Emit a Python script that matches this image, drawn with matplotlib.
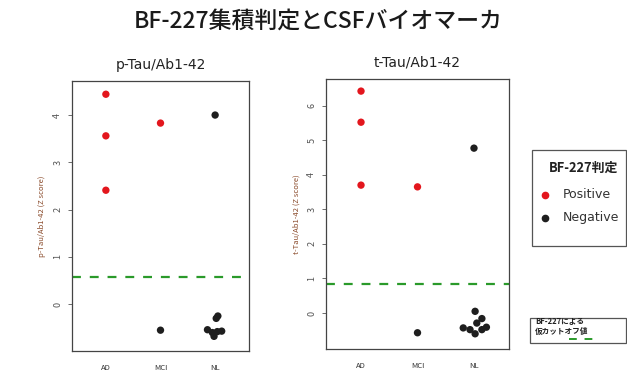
import matplotlib.pyplot as plt
from matplotlib.lines import Line2D
from matplotlib.patches import Rectangle

plt.rcParams['font.family'] = ['Noto Sans CJK JP', 'DejaVu Sans']

groups = ["AD", "MCI", "NL"]

# p-Tau/Ab1-42 (Z score): x position (group index + jitter), value, positive flag
ptau_x = [1, 1, 1, 2, 2, 3, 3.05, 3.02, 2.86, 2.95, 3.04, 3.12, 2.98]
ptau_y = [4.44, 3.56, 2.41, 3.83, -0.55, 4.0, -0.25, -0.30, -0.54, -0.60, -0.58, -0.57, -0.68]
ptau_pos = [1, 1, 1, 1, 0, 0, 0, 0, 0, 0, 0, 0, 0]
ptau_cut = 0.575

# t-Tau/Ab1-42 (Z score)
ttau_x = [1, 1, 1, 2, 2, 3, 3.02, 3.14, 3.05, 2.81, 2.93, 3.14, 3.22, 3.02]
ttau_y = [6.42, 5.52, 3.70, 3.65, -0.57, 4.77, 0.05, -0.16, -0.29, -0.43, -0.48, -0.48, -0.41, -0.60]
ttau_pos = [1, 1, 1, 1, 0, 0, 0, 0, 0, 0, 0, 0, 0, 0]
ttau_cut = 0.83

RED = '#e3161d'
BLACK = '#1e1e1e'
GREEN = '#2a9a2a'
LABEL_COL = '#8a4a2a'

fig = plt.figure(figsize=(6.27, 3.70), dpi=100)
fig.text(0.507, 0.943, "BF-227集積判定とCSFバイオマーカ", ha='center', va='center',
         fontsize=16.5, weight='medium', color='#1a1a1a')

def panel(rect, xs, ys, pos, cut, ylim, yticks, title, ylabel):
    ax = fig.add_axes(rect)
    cols = [RED if p else BLACK for p in pos]
    ax.scatter(xs, ys, c=cols, s=28, linewidths=0, zorder=3)
    ax.axhline(cut, color=GREEN, linestyle=(0, (4, 4)), linewidth=1.6)
    ax.set_xlim(0.38, 3.62)
    ax.set_ylim(*ylim)
    ax.set_yticks(yticks)
    ax.set_yticklabels([str(t) for t in yticks], rotation=90, va='center')
    ax.set_xticks([1, 2, 3])
    ax.set_xticklabels(groups, fontsize=5.5, color='#333333')
    ax.tick_params(axis='x', length=0, pad=9)
    ax.tick_params(axis='y', length=3, width=0.6, color='#555555', labelsize=6.5,
                   labelcolor='#555555', pad=4)
    for s in ax.spines.values():
        s.set_color('#444444')
        s.set_linewidth(0.9)
    ax.set_title(title, fontsize=10, color='#222222', pad=9, family='DejaVu Sans')
    ax.set_ylabel(ylabel, fontsize=5.5, color=LABEL_COL, labelpad=5)
    return ax

ax1 = panel([72 / 627, 1 - 351 / 370, 177 / 627, 270 / 370], ptau_x, ptau_y, ptau_pos,
            ptau_cut, (-0.99, 4.72), [0, 1, 2, 3, 4], "p-Tau/Ab1-42", "p-Tau/Ab1-42 (Z score)")

ax2 = panel([326 / 627, 1 - 349 / 370, 183 / 627, 270 / 370], ttau_x, ttau_y, ttau_pos,
            ttau_cut, (-1.04, 6.77), [0, 1, 2, 3, 4, 5, 6], "t-Tau/Ab1-42", "t-Tau/Ab1-42 (Z score)")

# legend boxes (figure coordinates)
W, H = 627, 370
def fx(px):
    return px / W
def fy(py):
    return 1 - py / H

fig.add_artist(Rectangle((fx(532), fy(246)), fx(94), 96 / H, transform=fig.transFigure,
                         fill=False, edgecolor='#555555', linewidth=0.9))
fig.text(fx(584), fy(168), "BF-227判定", ha='center', va='center', fontsize=9.3,
         weight='bold', color='#222222')
fig.add_artist(Line2D([fx(545)], [fy(195)], marker='o', color=RED, markersize=4.5,
                      transform=fig.transFigure))
fig.text(fx(563), fy(195), "Positive", va='center', fontsize=9, color='#333333',
         family='DejaVu Sans')
fig.add_artist(Line2D([fx(545)], [fy(218)], marker='o', color=BLACK, markersize=4.5,
                      transform=fig.transFigure))
fig.text(fx(563), fy(218), "Negative", va='center', fontsize=9, color='#333333',
         family='DejaVu Sans')

fig.add_artist(Rectangle((fx(530), fy(343)), fx(96), 25 / H, transform=fig.transFigure,
                         fill=False, edgecolor='#555555', linewidth=0.9))
fig.text(fx(535), fy(326.5), "BF-227による\n仮カットオフ値", va='center', fontsize=5.5,
         color='#222222', linespacing=1.15, weight='bold')
fig.add_artist(Line2D([fx(569), fx(596)], [fy(339), fy(339)], color=GREEN,
                      linestyle=(0, (4, 4)), linewidth=1.4, transform=fig.transFigure))

fig.savefig("out.png", dpi=100)
